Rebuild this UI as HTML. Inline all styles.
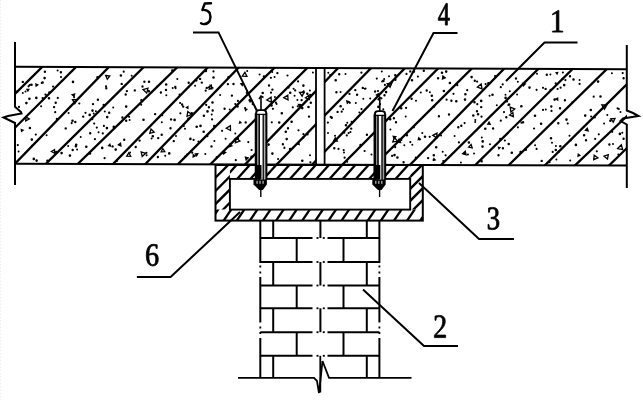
<!DOCTYPE html>
<html><head><meta charset="utf-8"><style>
html,body{margin:0;padding:0;background:#fff;width:643px;height:400px;overflow:hidden}
svg{display:block}
text{font-family:"Liberation Serif",serif}
</style></head><body>
<svg width="643" height="400" viewBox="0 0 643 400" stroke-linecap="butt">
<rect width="643" height="400" fill="#fff"/>
<line x1="0.5" y1="0" x2="0.5" y2="400" stroke="#eeeeee" stroke-width="1" stroke-dasharray="1.5 1.8"/>
<defs><clipPath id="slab"><polygon points="15.0,66.8 627.0,69.3 627.0,165.5 15.0,163.7"/></clipPath>
<clipPath id="chan"><path d="M215.5,164.5 H422.5 V221 H215.5 Z M229.8,179.3 V209.3 H410.3 V179.3 Z" clip-rule="evenodd"/></clipPath></defs>
<g clip-path="url(#slab)" stroke="#000">
<line x1="90.9" y1="18.6" x2="-103.7" y2="211.8" stroke-width="2.3" />
<line x1="124.4" y1="18.8" x2="-69.5" y2="211.9" stroke-width="2.3" />
<line x1="155.6" y1="18.9" x2="-31.9" y2="212.0" stroke-width="2.3" />
<line x1="192.2" y1="19.1" x2="-2.8" y2="212.0" stroke-width="2.3" />
<line x1="226.6" y1="19.3" x2="28.2" y2="212.1" stroke-width="2.3" />
<line x1="254.8" y1="19.4" x2="65.8" y2="212.2" stroke-width="2.3" />
<line x1="285.1" y1="19.5" x2="98.7" y2="212.3" stroke-width="2.3" />
<line x1="322.5" y1="19.7" x2="129.8" y2="212.3" stroke-width="2.3" />
<line x1="355.6" y1="19.9" x2="162.0" y2="212.4" stroke-width="2.3" />
<line x1="384.4" y1="20.0" x2="198.8" y2="212.5" stroke-width="2.3" />
<line x1="418.1" y1="20.1" x2="229.5" y2="212.6" stroke-width="2.3" />
<line x1="450.8" y1="20.3" x2="266.0" y2="212.7" stroke-width="2.3" />
<line x1="485.8" y1="20.5" x2="294.6" y2="212.7" stroke-width="2.3" />
<line x1="520.0" y1="20.6" x2="326.6" y2="212.8" stroke-width="2.3" />
<line x1="551.0" y1="20.8" x2="363.0" y2="212.9" stroke-width="2.3" />
<line x1="586.9" y1="20.9" x2="392.5" y2="213.0" stroke-width="2.3" />
<line x1="621.1" y1="21.1" x2="426.7" y2="213.0" stroke-width="2.3" />
<line x1="655.7" y1="21.2" x2="459.7" y2="213.1" stroke-width="2.3" />
<line x1="690.5" y1="21.4" x2="496.5" y2="213.2" stroke-width="2.3" />
<line x1="726.5" y1="21.6" x2="524.5" y2="213.3" stroke-width="2.3" />
<line x1="756.8" y1="21.7" x2="559.8" y2="213.4" stroke-width="2.3" />
</g>
<path fill="#000" d="M290.3,121.8a1.3,1.3 0 1,0 2.6,0a1.3,1.3 0 1,0 -2.6,0M290.2,149.1a1.1,1.1 0 1,0 2.2,0a1.1,1.1 0 1,0 -2.2,0M128.0,116.8a1.1,1.1 0 1,0 2.2,0a1.1,1.1 0 1,0 -2.2,0M73.1,97.2a1.0,1.0 0 1,0 2.0,0a1.0,1.0 0 1,0 -2.0,0M343.0,152.5a1.0,1.0 0 1,0 2.0,0a1.0,1.0 0 1,0 -2.0,0M377.1,106.9a1.3,1.3 0 1,0 2.6,0a1.3,1.3 0 1,0 -2.6,0M412.8,127.3a1.1,1.1 0 1,0 2.2,0a1.1,1.1 0 1,0 -2.2,0M394.2,147.3a1.0,1.0 0 1,0 2.0,0a1.0,1.0 0 1,0 -2.0,0M52.0,86.6a1.1,1.1 0 1,0 2.2,0a1.1,1.1 0 1,0 -2.2,0M379.8,142.3a1.2,1.2 0 1,0 2.4,0a1.2,1.2 0 1,0 -2.4,0M283.3,147.9a1.1,1.1 0 1,0 2.2,0a1.1,1.1 0 1,0 -2.2,0M404.7,116.6a1.0,1.0 0 1,0 2.0,0a1.0,1.0 0 1,0 -2.0,0M293.6,95.7a1.0,1.0 0 1,0 2.0,0a1.0,1.0 0 1,0 -2.0,0M445.5,99.7a1.1,1.1 0 1,0 2.2,0a1.1,1.1 0 1,0 -2.2,0M327.3,72.8a1.0,1.0 0 1,0 2.0,0a1.0,1.0 0 1,0 -2.0,0M258.7,148.2a1.3,1.3 0 1,0 2.6,0a1.3,1.3 0 1,0 -2.6,0M56.6,70.5a1.0,1.0 0 1,0 2.0,0a1.0,1.0 0 1,0 -2.0,0M145.6,155.3a1.0,1.0 0 1,0 2.0,0a1.0,1.0 0 1,0 -2.0,0M301.0,160.7a1.3,1.3 0 1,0 2.6,0a1.3,1.3 0 1,0 -2.6,0M270.7,122.3a1.1,1.1 0 1,0 2.2,0a1.1,1.1 0 1,0 -2.2,0M488.6,95.7a1.0,1.0 0 1,0 2.0,0a1.0,1.0 0 1,0 -2.0,0M204.6,71.0a1.3,1.3 0 1,0 2.6,0a1.3,1.3 0 1,0 -2.6,0M476.0,81.6a1.1,1.1 0 1,0 2.2,0a1.1,1.1 0 1,0 -2.2,0M444.9,71.6a1.3,1.3 0 1,0 2.6,0a1.3,1.3 0 1,0 -2.6,0M499.7,87.2a1.1,1.1 0 1,0 2.2,0a1.1,1.1 0 1,0 -2.2,0M287.5,87.6a1.1,1.1 0 1,0 2.2,0a1.1,1.1 0 1,0 -2.2,0M270.2,105.4a1.3,1.3 0 1,0 2.6,0a1.3,1.3 0 1,0 -2.6,0M271.2,89.6a1.2,1.2 0 1,0 2.4,0a1.2,1.2 0 1,0 -2.4,0M540.5,160.9a1.2,1.2 0 1,0 2.4,0a1.2,1.2 0 1,0 -2.4,0M621.6,73.1a1.1,1.1 0 1,0 2.2,0a1.1,1.1 0 1,0 -2.2,0M255.3,148.9a1.0,1.0 0 1,0 2.0,0a1.0,1.0 0 1,0 -2.0,0M41.3,82.5a1.3,1.3 0 1,0 2.6,0a1.3,1.3 0 1,0 -2.6,0M172.6,141.1a1.2,1.2 0 1,0 2.4,0a1.2,1.2 0 1,0 -2.4,0M520.0,106.5a1.0,1.0 0 1,0 2.0,0a1.0,1.0 0 1,0 -2.0,0M70.6,123.1a1.1,1.1 0 1,0 2.2,0a1.1,1.1 0 1,0 -2.2,0M25.1,103.1a1.3,1.3 0 1,0 2.6,0a1.3,1.3 0 1,0 -2.6,0M93.1,123.6a1.1,1.1 0 1,0 2.2,0a1.1,1.1 0 1,0 -2.2,0M541.9,87.8a1.1,1.1 0 1,0 2.2,0a1.1,1.1 0 1,0 -2.2,0M204.6,90.7a1.1,1.1 0 1,0 2.2,0a1.1,1.1 0 1,0 -2.2,0M456.2,85.2a1.1,1.1 0 1,0 2.2,0a1.1,1.1 0 1,0 -2.2,0M432.7,106.4a1.3,1.3 0 1,0 2.6,0a1.3,1.3 0 1,0 -2.6,0M382.3,109.3a1.0,1.0 0 1,0 2.0,0a1.0,1.0 0 1,0 -2.0,0M82.0,116.6a1.2,1.2 0 1,0 2.4,0a1.2,1.2 0 1,0 -2.4,0M160.5,134.7a1.2,1.2 0 1,0 2.4,0a1.2,1.2 0 1,0 -2.4,0M271.1,153.6a1.3,1.3 0 1,0 2.6,0a1.3,1.3 0 1,0 -2.6,0M194.1,85.8a1.0,1.0 0 1,0 2.0,0a1.0,1.0 0 1,0 -2.0,0M92.7,113.6a1.0,1.0 0 1,0 2.0,0a1.0,1.0 0 1,0 -2.0,0M186.0,154.5a1.1,1.1 0 1,0 2.2,0a1.1,1.1 0 1,0 -2.2,0M470.3,77.1a1.3,1.3 0 1,0 2.6,0a1.3,1.3 0 1,0 -2.6,0M286.4,75.5a1.1,1.1 0 1,0 2.2,0a1.1,1.1 0 1,0 -2.2,0M187.1,118.7a1.1,1.1 0 1,0 2.2,0a1.1,1.1 0 1,0 -2.2,0M71.7,81.9a1.3,1.3 0 1,0 2.6,0a1.3,1.3 0 1,0 -2.6,0M611.1,131.8a1.1,1.1 0 1,0 2.2,0a1.1,1.1 0 1,0 -2.2,0M373.8,155.7a1.3,1.3 0 1,0 2.6,0a1.3,1.3 0 1,0 -2.6,0M568.5,135.7a1.0,1.0 0 1,0 2.0,0a1.0,1.0 0 1,0 -2.0,0M28.6,128.0a1.3,1.3 0 1,0 2.6,0a1.3,1.3 0 1,0 -2.6,0M56.7,97.9a1.1,1.1 0 1,0 2.2,0a1.1,1.1 0 1,0 -2.2,0M622.4,78.2a1.2,1.2 0 1,0 2.4,0a1.2,1.2 0 1,0 -2.4,0M463.3,153.8a1.1,1.1 0 1,0 2.2,0a1.1,1.1 0 1,0 -2.2,0M497.3,155.3a1.2,1.2 0 1,0 2.4,0a1.2,1.2 0 1,0 -2.4,0M67.6,113.0a1.0,1.0 0 1,0 2.0,0a1.0,1.0 0 1,0 -2.0,0M544.8,109.5a1.0,1.0 0 1,0 2.0,0a1.0,1.0 0 1,0 -2.0,0M539.8,123.8a1.3,1.3 0 1,0 2.6,0a1.3,1.3 0 1,0 -2.6,0M246.2,70.9a1.0,1.0 0 1,0 2.0,0a1.0,1.0 0 1,0 -2.0,0M64.5,128.4a1.2,1.2 0 1,0 2.4,0a1.2,1.2 0 1,0 -2.4,0M549.7,138.2a1.3,1.3 0 1,0 2.6,0a1.3,1.3 0 1,0 -2.6,0M582.8,135.2a1.3,1.3 0 1,0 2.6,0a1.3,1.3 0 1,0 -2.6,0M283.4,147.5a1.0,1.0 0 1,0 2.0,0a1.0,1.0 0 1,0 -2.0,0M330.6,117.7a1.2,1.2 0 1,0 2.4,0a1.2,1.2 0 1,0 -2.4,0M380.9,114.8a1.1,1.1 0 1,0 2.2,0a1.1,1.1 0 1,0 -2.2,0M596.8,81.6a1.3,1.3 0 1,0 2.6,0a1.3,1.3 0 1,0 -2.6,0M171.1,70.5a1.2,1.2 0 1,0 2.4,0a1.2,1.2 0 1,0 -2.4,0M102.8,125.9a1.1,1.1 0 1,0 2.2,0a1.1,1.1 0 1,0 -2.2,0M473.2,102.3a1.3,1.3 0 1,0 2.6,0a1.3,1.3 0 1,0 -2.6,0M261.4,93.0a1.3,1.3 0 1,0 2.6,0a1.3,1.3 0 1,0 -2.6,0M503.8,140.5a1.1,1.1 0 1,0 2.2,0a1.1,1.1 0 1,0 -2.2,0M550.1,106.5a1.2,1.2 0 1,0 2.4,0a1.2,1.2 0 1,0 -2.4,0M143.2,81.8a1.2,1.2 0 1,0 2.4,0a1.2,1.2 0 1,0 -2.4,0M524.1,149.2a1.0,1.0 0 1,0 2.0,0a1.0,1.0 0 1,0 -2.0,0M592.6,96.7a1.1,1.1 0 1,0 2.2,0a1.1,1.1 0 1,0 -2.2,0M84.4,112.8a1.1,1.1 0 1,0 2.2,0a1.1,1.1 0 1,0 -2.2,0M520.1,106.2a1.3,1.3 0 1,0 2.6,0a1.3,1.3 0 1,0 -2.6,0M423.7,136.7a1.3,1.3 0 1,0 2.6,0a1.3,1.3 0 1,0 -2.6,0M210.3,146.4a1.2,1.2 0 1,0 2.4,0a1.2,1.2 0 1,0 -2.4,0M545.6,74.8a1.2,1.2 0 1,0 2.4,0a1.2,1.2 0 1,0 -2.4,0M362.3,98.8a1.0,1.0 0 1,0 2.0,0a1.0,1.0 0 1,0 -2.0,0M405.0,107.9a1.1,1.1 0 1,0 2.2,0a1.1,1.1 0 1,0 -2.2,0M30.9,145.9a1.1,1.1 0 1,0 2.2,0a1.1,1.1 0 1,0 -2.2,0M489.0,144.3a1.0,1.0 0 1,0 2.0,0a1.0,1.0 0 1,0 -2.0,0M286.8,128.2a1.2,1.2 0 1,0 2.4,0a1.2,1.2 0 1,0 -2.4,0M597.7,134.3a1.1,1.1 0 1,0 2.2,0a1.1,1.1 0 1,0 -2.2,0M516.1,94.5a1.0,1.0 0 1,0 2.0,0a1.0,1.0 0 1,0 -2.0,0M474.3,120.1a1.0,1.0 0 1,0 2.0,0a1.0,1.0 0 1,0 -2.0,0M124.5,94.5a1.2,1.2 0 1,0 2.4,0a1.2,1.2 0 1,0 -2.4,0M343.5,157.7a1.1,1.1 0 1,0 2.2,0a1.1,1.1 0 1,0 -2.2,0M254.8,143.1a1.1,1.1 0 1,0 2.2,0a1.1,1.1 0 1,0 -2.2,0M68.6,155.6a1.3,1.3 0 1,0 2.6,0a1.3,1.3 0 1,0 -2.6,0M94.9,111.2a1.0,1.0 0 1,0 2.0,0a1.0,1.0 0 1,0 -2.0,0M244.5,122.4a1.2,1.2 0 1,0 2.4,0a1.2,1.2 0 1,0 -2.4,0M297.4,130.3a1.1,1.1 0 1,0 2.2,0a1.1,1.1 0 1,0 -2.2,0M76.1,149.5a1.0,1.0 0 1,0 2.0,0a1.0,1.0 0 1,0 -2.0,0M145.5,152.8a1.0,1.0 0 1,0 2.0,0a1.0,1.0 0 1,0 -2.0,0M609.1,120.7a1.2,1.2 0 1,0 2.4,0a1.2,1.2 0 1,0 -2.4,0M175.0,136.1a1.0,1.0 0 1,0 2.0,0a1.0,1.0 0 1,0 -2.0,0M227.2,77.3a1.3,1.3 0 1,0 2.6,0a1.3,1.3 0 1,0 -2.6,0M223.4,108.7a1.2,1.2 0 1,0 2.4,0a1.2,1.2 0 1,0 -2.4,0M311.9,72.6a1.0,1.0 0 1,0 2.0,0a1.0,1.0 0 1,0 -2.0,0M276.2,73.1a1.2,1.2 0 1,0 2.4,0a1.2,1.2 0 1,0 -2.4,0M432.5,155.2a1.3,1.3 0 1,0 2.6,0a1.3,1.3 0 1,0 -2.6,0M105.9,117.1a1.3,1.3 0 1,0 2.6,0a1.3,1.3 0 1,0 -2.6,0M590.1,116.6a1.0,1.0 0 1,0 2.0,0a1.0,1.0 0 1,0 -2.0,0M475.8,111.3a1.2,1.2 0 1,0 2.4,0a1.2,1.2 0 1,0 -2.4,0M520.4,122.7a1.1,1.1 0 1,0 2.2,0a1.1,1.1 0 1,0 -2.2,0M333.1,148.2a1.2,1.2 0 1,0 2.4,0a1.2,1.2 0 1,0 -2.4,0M205.1,104.9a1.1,1.1 0 1,0 2.2,0a1.1,1.1 0 1,0 -2.2,0M200.6,82.6a1.2,1.2 0 1,0 2.4,0a1.2,1.2 0 1,0 -2.4,0M363.8,88.8a1.0,1.0 0 1,0 2.0,0a1.0,1.0 0 1,0 -2.0,0M32.5,158.9a1.3,1.3 0 1,0 2.6,0a1.3,1.3 0 1,0 -2.6,0M346.2,161.7a1.0,1.0 0 1,0 2.0,0a1.0,1.0 0 1,0 -2.0,0M55.7,119.0a1.3,1.3 0 1,0 2.6,0a1.3,1.3 0 1,0 -2.6,0M574.6,144.9a1.3,1.3 0 1,0 2.6,0a1.3,1.3 0 1,0 -2.6,0M179.3,113.3a1.1,1.1 0 1,0 2.2,0a1.1,1.1 0 1,0 -2.2,0M221.9,153.1a1.3,1.3 0 1,0 2.6,0a1.3,1.3 0 1,0 -2.6,0M334.4,80.2a1.3,1.3 0 1,0 2.6,0a1.3,1.3 0 1,0 -2.6,0M391.0,155.9a1.1,1.1 0 1,0 2.2,0a1.1,1.1 0 1,0 -2.2,0M442.2,160.9a1.0,1.0 0 1,0 2.0,0a1.0,1.0 0 1,0 -2.0,0M133.6,90.4a1.2,1.2 0 1,0 2.4,0a1.2,1.2 0 1,0 -2.4,0M211.2,102.5a1.3,1.3 0 1,0 2.6,0a1.3,1.3 0 1,0 -2.6,0M79.7,136.9a1.0,1.0 0 1,0 2.0,0a1.0,1.0 0 1,0 -2.0,0M533.0,128.5a1.1,1.1 0 1,0 2.2,0a1.1,1.1 0 1,0 -2.2,0M441.7,151.8a1.0,1.0 0 1,0 2.0,0a1.0,1.0 0 1,0 -2.0,0M244.0,108.0a1.1,1.1 0 1,0 2.2,0a1.1,1.1 0 1,0 -2.2,0M342.6,150.1a1.1,1.1 0 1,0 2.2,0a1.1,1.1 0 1,0 -2.2,0M337.4,148.9a1.1,1.1 0 1,0 2.2,0a1.1,1.1 0 1,0 -2.2,0M157.0,138.1a1.2,1.2 0 1,0 2.4,0a1.2,1.2 0 1,0 -2.4,0M563.7,100.2a1.2,1.2 0 1,0 2.4,0a1.2,1.2 0 1,0 -2.4,0M556.5,89.0a1.1,1.1 0 1,0 2.2,0a1.1,1.1 0 1,0 -2.2,0M554.6,83.4a1.1,1.1 0 1,0 2.2,0a1.1,1.1 0 1,0 -2.2,0M96.2,77.3a1.3,1.3 0 1,0 2.6,0a1.3,1.3 0 1,0 -2.6,0M74.6,146.3a1.3,1.3 0 1,0 2.6,0a1.3,1.3 0 1,0 -2.6,0M345.7,135.4a1.1,1.1 0 1,0 2.2,0a1.1,1.1 0 1,0 -2.2,0M260.5,133.3a1.0,1.0 0 1,0 2.0,0a1.0,1.0 0 1,0 -2.0,0M74.1,122.0a1.2,1.2 0 1,0 2.4,0a1.2,1.2 0 1,0 -2.4,0M569.2,160.4a1.0,1.0 0 1,0 2.0,0a1.0,1.0 0 1,0 -2.0,0M443.6,129.2a1.2,1.2 0 1,0 2.4,0a1.2,1.2 0 1,0 -2.4,0M130.7,75.8a1.0,1.0 0 1,0 2.0,0a1.0,1.0 0 1,0 -2.0,0M30.5,139.6a1.3,1.3 0 1,0 2.6,0a1.3,1.3 0 1,0 -2.6,0M104.9,86.3a1.1,1.1 0 1,0 2.2,0a1.1,1.1 0 1,0 -2.2,0M120.5,83.9a1.2,1.2 0 1,0 2.4,0a1.2,1.2 0 1,0 -2.4,0M578.6,79.9a1.0,1.0 0 1,0 2.0,0a1.0,1.0 0 1,0 -2.0,0M97.6,132.3a1.0,1.0 0 1,0 2.0,0a1.0,1.0 0 1,0 -2.0,0M479.9,100.9a1.3,1.3 0 1,0 2.6,0a1.3,1.3 0 1,0 -2.6,0M274.8,102.7a1.1,1.1 0 1,0 2.2,0a1.1,1.1 0 1,0 -2.2,0M380.8,71.5a1.0,1.0 0 1,0 2.0,0a1.0,1.0 0 1,0 -2.0,0M528.2,87.6a1.3,1.3 0 1,0 2.6,0a1.3,1.3 0 1,0 -2.6,0M234.2,104.0a1.1,1.1 0 1,0 2.2,0a1.1,1.1 0 1,0 -2.2,0M383.2,79.1a1.0,1.0 0 1,0 2.0,0a1.0,1.0 0 1,0 -2.0,0M212.2,77.5a1.3,1.3 0 1,0 2.6,0a1.3,1.3 0 1,0 -2.6,0M361.6,87.9a1.2,1.2 0 1,0 2.4,0a1.2,1.2 0 1,0 -2.4,0M504.5,94.7a1.0,1.0 0 1,0 2.0,0a1.0,1.0 0 1,0 -2.0,0M467.6,142.5a1.3,1.3 0 1,0 2.6,0a1.3,1.3 0 1,0 -2.6,0M96.7,99.8a1.2,1.2 0 1,0 2.4,0a1.2,1.2 0 1,0 -2.4,0M481.4,141.4a1.3,1.3 0 1,0 2.6,0a1.3,1.3 0 1,0 -2.6,0M141.3,86.5a1.2,1.2 0 1,0 2.4,0a1.2,1.2 0 1,0 -2.4,0M198.9,78.9a1.2,1.2 0 1,0 2.4,0a1.2,1.2 0 1,0 -2.4,0M617.3,154.5a1.0,1.0 0 1,0 2.0,0a1.0,1.0 0 1,0 -2.0,0M156.7,157.0a1.2,1.2 0 1,0 2.4,0a1.2,1.2 0 1,0 -2.4,0M221.0,130.8a1.1,1.1 0 1,0 2.2,0a1.1,1.1 0 1,0 -2.2,0M339.3,106.2a1.3,1.3 0 1,0 2.6,0a1.3,1.3 0 1,0 -2.6,0M405.6,135.2a1.3,1.3 0 1,0 2.6,0a1.3,1.3 0 1,0 -2.6,0M610.9,73.3a1.0,1.0 0 1,0 2.0,0a1.0,1.0 0 1,0 -2.0,0M464.1,94.3a1.3,1.3 0 1,0 2.6,0a1.3,1.3 0 1,0 -2.6,0M409.1,71.4a1.2,1.2 0 1,0 2.4,0a1.2,1.2 0 1,0 -2.4,0M168.0,153.4a1.3,1.3 0 1,0 2.6,0a1.3,1.3 0 1,0 -2.6,0M603.1,123.6a1.0,1.0 0 1,0 2.0,0a1.0,1.0 0 1,0 -2.0,0M403.3,145.2a1.0,1.0 0 1,0 2.0,0a1.0,1.0 0 1,0 -2.0,0M349.5,132.0a1.0,1.0 0 1,0 2.0,0a1.0,1.0 0 1,0 -2.0,0M250.3,156.7a1.3,1.3 0 1,0 2.6,0a1.3,1.3 0 1,0 -2.6,0M302.1,85.6a1.3,1.3 0 1,0 2.6,0a1.3,1.3 0 1,0 -2.6,0M344.7,125.3a1.3,1.3 0 1,0 2.6,0a1.3,1.3 0 1,0 -2.6,0M589.5,110.0a1.3,1.3 0 1,0 2.6,0a1.3,1.3 0 1,0 -2.6,0M378.7,104.1a1.2,1.2 0 1,0 2.4,0a1.2,1.2 0 1,0 -2.4,0M309.1,95.0a1.2,1.2 0 1,0 2.4,0a1.2,1.2 0 1,0 -2.4,0M418.8,139.6a1.0,1.0 0 1,0 2.0,0a1.0,1.0 0 1,0 -2.0,0M24.5,91.6a1.0,1.0 0 1,0 2.0,0a1.0,1.0 0 1,0 -2.0,0M399.9,108.2a1.3,1.3 0 1,0 2.6,0a1.3,1.3 0 1,0 -2.6,0M47.7,98.2a1.3,1.3 0 1,0 2.6,0a1.3,1.3 0 1,0 -2.6,0M46.2,160.8a1.2,1.2 0 1,0 2.4,0a1.2,1.2 0 1,0 -2.4,0M60.3,153.1a1.3,1.3 0 1,0 2.6,0a1.3,1.3 0 1,0 -2.6,0M452.4,93.8a1.1,1.1 0 1,0 2.2,0a1.1,1.1 0 1,0 -2.2,0M43.3,78.1a1.3,1.3 0 1,0 2.6,0a1.3,1.3 0 1,0 -2.6,0M103.5,158.2a1.1,1.1 0 1,0 2.2,0a1.1,1.1 0 1,0 -2.2,0M382.1,80.9a1.3,1.3 0 1,0 2.6,0a1.3,1.3 0 1,0 -2.6,0M292.6,88.8a1.0,1.0 0 1,0 2.0,0a1.0,1.0 0 1,0 -2.0,0M232.3,84.0a1.2,1.2 0 1,0 2.4,0a1.2,1.2 0 1,0 -2.4,0M284.5,131.7a1.3,1.3 0 1,0 2.6,0a1.3,1.3 0 1,0 -2.6,0M380.5,129.4a1.3,1.3 0 1,0 2.6,0a1.3,1.3 0 1,0 -2.6,0M236.9,138.6a1.1,1.1 0 1,0 2.2,0a1.1,1.1 0 1,0 -2.2,0M594.1,138.9a1.1,1.1 0 1,0 2.2,0a1.1,1.1 0 1,0 -2.2,0M307.8,116.6a1.2,1.2 0 1,0 2.4,0a1.2,1.2 0 1,0 -2.4,0M491.9,128.5a1.2,1.2 0 1,0 2.4,0a1.2,1.2 0 1,0 -2.4,0M182.7,126.0a1.1,1.1 0 1,0 2.2,0a1.1,1.1 0 1,0 -2.2,0M400.2,140.0a1.1,1.1 0 1,0 2.2,0a1.1,1.1 0 1,0 -2.2,0M593.7,117.5a1.1,1.1 0 1,0 2.2,0a1.1,1.1 0 1,0 -2.2,0M549.4,74.6a1.0,1.0 0 1,0 2.0,0a1.0,1.0 0 1,0 -2.0,0M21.8,92.9a1.0,1.0 0 1,0 2.0,0a1.0,1.0 0 1,0 -2.0,0M394.2,79.8a1.2,1.2 0 1,0 2.4,0a1.2,1.2 0 1,0 -2.4,0M59.9,77.0a1.1,1.1 0 1,0 2.2,0a1.1,1.1 0 1,0 -2.2,0M350.0,128.6a1.2,1.2 0 1,0 2.4,0a1.2,1.2 0 1,0 -2.4,0M309.6,102.8a1.2,1.2 0 1,0 2.4,0a1.2,1.2 0 1,0 -2.4,0M224.6,138.7a1.0,1.0 0 1,0 2.0,0a1.0,1.0 0 1,0 -2.0,0M502.9,112.1a1.1,1.1 0 1,0 2.2,0a1.1,1.1 0 1,0 -2.2,0M285.4,139.1a1.3,1.3 0 1,0 2.6,0a1.3,1.3 0 1,0 -2.6,0M507.4,104.9a1.2,1.2 0 1,0 2.4,0a1.2,1.2 0 1,0 -2.4,0M192.5,139.9a1.1,1.1 0 1,0 2.2,0a1.1,1.1 0 1,0 -2.2,0M275.6,104.1a1.0,1.0 0 1,0 2.0,0a1.0,1.0 0 1,0 -2.0,0M296.4,100.0a1.0,1.0 0 1,0 2.0,0a1.0,1.0 0 1,0 -2.0,0M277.9,122.5a1.3,1.3 0 1,0 2.6,0a1.3,1.3 0 1,0 -2.6,0M197.4,141.4a1.0,1.0 0 1,0 2.0,0a1.0,1.0 0 1,0 -2.0,0M204.3,154.0a1.0,1.0 0 1,0 2.0,0a1.0,1.0 0 1,0 -2.0,0M437.7,116.3a1.2,1.2 0 1,0 2.4,0a1.2,1.2 0 1,0 -2.4,0M187.5,82.8a1.2,1.2 0 1,0 2.4,0a1.2,1.2 0 1,0 -2.4,0M415.0,100.7a1.0,1.0 0 1,0 2.0,0a1.0,1.0 0 1,0 -2.0,0M211.5,110.5a1.2,1.2 0 1,0 2.4,0a1.2,1.2 0 1,0 -2.4,0M281.7,144.3a1.2,1.2 0 1,0 2.4,0a1.2,1.2 0 1,0 -2.4,0M294.1,90.4a1.1,1.1 0 1,0 2.2,0a1.1,1.1 0 1,0 -2.2,0M67.2,145.9a1.0,1.0 0 1,0 2.0,0a1.0,1.0 0 1,0 -2.0,0M236.2,106.4a1.3,1.3 0 1,0 2.6,0a1.3,1.3 0 1,0 -2.6,0M499.1,139.0a1.2,1.2 0 1,0 2.4,0a1.2,1.2 0 1,0 -2.4,0M499.7,120.7a1.1,1.1 0 1,0 2.2,0a1.1,1.1 0 1,0 -2.2,0M123.0,139.7a1.2,1.2 0 1,0 2.4,0a1.2,1.2 0 1,0 -2.4,0M508.8,91.2a1.0,1.0 0 1,0 2.0,0a1.0,1.0 0 1,0 -2.0,0M346.3,122.7a1.0,1.0 0 1,0 2.0,0a1.0,1.0 0 1,0 -2.0,0M411.3,144.8a1.0,1.0 0 1,0 2.0,0a1.0,1.0 0 1,0 -2.0,0M369.2,98.5a1.0,1.0 0 1,0 2.0,0a1.0,1.0 0 1,0 -2.0,0M219.1,95.0a1.0,1.0 0 1,0 2.0,0a1.0,1.0 0 1,0 -2.0,0M561.6,78.9a1.1,1.1 0 1,0 2.2,0a1.1,1.1 0 1,0 -2.2,0M74.9,144.8a1.3,1.3 0 1,0 2.6,0a1.3,1.3 0 1,0 -2.6,0M164.8,89.9a1.2,1.2 0 1,0 2.4,0a1.2,1.2 0 1,0 -2.4,0M480.0,107.1a1.2,1.2 0 1,0 2.4,0a1.2,1.2 0 1,0 -2.4,0M505.9,101.6a1.1,1.1 0 1,0 2.2,0a1.1,1.1 0 1,0 -2.2,0M453.6,136.0a1.0,1.0 0 1,0 2.0,0a1.0,1.0 0 1,0 -2.0,0M265.0,146.3a1.2,1.2 0 1,0 2.4,0a1.2,1.2 0 1,0 -2.4,0M534.1,145.3a1.0,1.0 0 1,0 2.0,0a1.0,1.0 0 1,0 -2.0,0M555.4,159.4a1.0,1.0 0 1,0 2.0,0a1.0,1.0 0 1,0 -2.0,0M334.0,135.8a1.0,1.0 0 1,0 2.0,0a1.0,1.0 0 1,0 -2.0,0M271.8,108.8a1.1,1.1 0 1,0 2.2,0a1.1,1.1 0 1,0 -2.2,0M164.9,84.5a1.3,1.3 0 1,0 2.6,0a1.3,1.3 0 1,0 -2.6,0M430.9,100.2a1.3,1.3 0 1,0 2.6,0a1.3,1.3 0 1,0 -2.6,0M273.9,96.9a1.0,1.0 0 1,0 2.0,0a1.0,1.0 0 1,0 -2.0,0M302.0,137.6a1.2,1.2 0 1,0 2.4,0a1.2,1.2 0 1,0 -2.4,0M409.2,142.1a1.1,1.1 0 1,0 2.2,0a1.1,1.1 0 1,0 -2.2,0M569.7,140.6a1.0,1.0 0 1,0 2.0,0a1.0,1.0 0 1,0 -2.0,0M370.5,154.4a1.0,1.0 0 1,0 2.0,0a1.0,1.0 0 1,0 -2.0,0M205.5,87.9a1.2,1.2 0 1,0 2.4,0a1.2,1.2 0 1,0 -2.4,0M147.6,91.2a1.3,1.3 0 1,0 2.6,0a1.3,1.3 0 1,0 -2.6,0M376.9,91.0a1.1,1.1 0 1,0 2.2,0a1.1,1.1 0 1,0 -2.2,0M558.8,108.2a1.2,1.2 0 1,0 2.4,0a1.2,1.2 0 1,0 -2.4,0M396.1,157.5a1.3,1.3 0 1,0 2.6,0a1.3,1.3 0 1,0 -2.6,0M533.7,115.7a1.3,1.3 0 1,0 2.6,0a1.3,1.3 0 1,0 -2.6,0M571.0,102.6a1.0,1.0 0 1,0 2.0,0a1.0,1.0 0 1,0 -2.0,0M308.9,90.5a1.0,1.0 0 1,0 2.0,0a1.0,1.0 0 1,0 -2.0,0M147.7,81.8a1.3,1.3 0 1,0 2.6,0a1.3,1.3 0 1,0 -2.6,0M608.2,144.5a1.2,1.2 0 1,0 2.4,0a1.2,1.2 0 1,0 -2.4,0M494.0,76.1a1.1,1.1 0 1,0 2.2,0a1.1,1.1 0 1,0 -2.2,0M557.4,151.7a1.2,1.2 0 1,0 2.4,0a1.2,1.2 0 1,0 -2.4,0M288.9,92.8a1.3,1.3 0 1,0 2.6,0a1.3,1.3 0 1,0 -2.6,0M383.8,84.9a1.1,1.1 0 1,0 2.2,0a1.1,1.1 0 1,0 -2.2,0M484.5,84.1a1.1,1.1 0 1,0 2.2,0a1.1,1.1 0 1,0 -2.2,0M402.4,162.2a1.2,1.2 0 1,0 2.4,0a1.2,1.2 0 1,0 -2.4,0M329.1,75.0a1.1,1.1 0 1,0 2.2,0a1.1,1.1 0 1,0 -2.2,0M16.7,145.1a1.1,1.1 0 1,0 2.2,0a1.1,1.1 0 1,0 -2.2,0M514.8,78.5a1.2,1.2 0 1,0 2.4,0a1.2,1.2 0 1,0 -2.4,0M388.9,119.2a1.3,1.3 0 1,0 2.6,0a1.3,1.3 0 1,0 -2.6,0M436.9,78.2a1.2,1.2 0 1,0 2.4,0a1.2,1.2 0 1,0 -2.4,0M27.5,86.3a1.1,1.1 0 1,0 2.2,0a1.1,1.1 0 1,0 -2.2,0M572.2,79.5a1.3,1.3 0 1,0 2.6,0a1.3,1.3 0 1,0 -2.6,0M142.2,119.7a1.3,1.3 0 1,0 2.6,0a1.3,1.3 0 1,0 -2.6,0M111.4,146.4a1.2,1.2 0 1,0 2.4,0a1.2,1.2 0 1,0 -2.4,0M207.7,107.2a1.2,1.2 0 1,0 2.4,0a1.2,1.2 0 1,0 -2.4,0M621.3,132.8a1.0,1.0 0 1,0 2.0,0a1.0,1.0 0 1,0 -2.0,0M234.3,133.4a1.0,1.0 0 1,0 2.0,0a1.0,1.0 0 1,0 -2.0,0M421.3,132.9a1.0,1.0 0 1,0 2.0,0a1.0,1.0 0 1,0 -2.0,0M412.6,71.6a1.3,1.3 0 1,0 2.6,0a1.3,1.3 0 1,0 -2.6,0M447.8,114.5a1.2,1.2 0 1,0 2.4,0a1.2,1.2 0 1,0 -2.4,0M358.4,112.6a1.0,1.0 0 1,0 2.0,0a1.0,1.0 0 1,0 -2.0,0M535.5,148.9a1.1,1.1 0 1,0 2.2,0a1.1,1.1 0 1,0 -2.2,0M562.9,85.1a1.3,1.3 0 1,0 2.6,0a1.3,1.3 0 1,0 -2.6,0M584.8,140.3a1.2,1.2 0 1,0 2.4,0a1.2,1.2 0 1,0 -2.4,0M474.2,122.0a1.0,1.0 0 1,0 2.0,0a1.0,1.0 0 1,0 -2.0,0M171.7,88.0a1.0,1.0 0 1,0 2.0,0a1.0,1.0 0 1,0 -2.0,0M215.6,157.2a1.3,1.3 0 1,0 2.6,0a1.3,1.3 0 1,0 -2.6,0M455.0,101.2a1.3,1.3 0 1,0 2.6,0a1.3,1.3 0 1,0 -2.6,0M72.0,82.1a1.0,1.0 0 1,0 2.0,0a1.0,1.0 0 1,0 -2.0,0M95.7,127.6a1.1,1.1 0 1,0 2.2,0a1.1,1.1 0 1,0 -2.2,0M124.9,106.6a1.3,1.3 0 1,0 2.6,0a1.3,1.3 0 1,0 -2.6,0M375.7,78.6a1.1,1.1 0 1,0 2.2,0a1.1,1.1 0 1,0 -2.2,0M35.3,160.6a1.3,1.3 0 1,0 2.6,0a1.3,1.3 0 1,0 -2.6,0M262.7,76.5a1.3,1.3 0 1,0 2.6,0a1.3,1.3 0 1,0 -2.6,0M578.5,83.9a1.1,1.1 0 1,0 2.2,0a1.1,1.1 0 1,0 -2.2,0M481.2,146.6a1.3,1.3 0 1,0 2.6,0a1.3,1.3 0 1,0 -2.6,0M309.0,155.3a1.0,1.0 0 1,0 2.0,0a1.0,1.0 0 1,0 -2.0,0M457.1,127.3a1.2,1.2 0 1,0 2.4,0a1.2,1.2 0 1,0 -2.4,0M612.0,144.1a1.0,1.0 0 1,0 2.0,0a1.0,1.0 0 1,0 -2.0,0M174.1,87.0a1.2,1.2 0 1,0 2.4,0a1.2,1.2 0 1,0 -2.4,0M410.7,80.2a1.3,1.3 0 1,0 2.6,0a1.3,1.3 0 1,0 -2.6,0M140.2,100.2a1.2,1.2 0 1,0 2.4,0a1.2,1.2 0 1,0 -2.4,0M516.8,127.3a1.1,1.1 0 1,0 2.2,0a1.1,1.1 0 1,0 -2.2,0M169.9,119.4a1.2,1.2 0 1,0 2.4,0a1.2,1.2 0 1,0 -2.4,0M348.7,102.8a1.1,1.1 0 1,0 2.2,0a1.1,1.1 0 1,0 -2.2,0M364.4,88.6a1.1,1.1 0 1,0 2.2,0a1.1,1.1 0 1,0 -2.2,0M360.3,72.7a1.1,1.1 0 1,0 2.2,0a1.1,1.1 0 1,0 -2.2,0M487.1,83.3a1.3,1.3 0 1,0 2.6,0a1.3,1.3 0 1,0 -2.6,0M365.7,134.7a1.2,1.2 0 1,0 2.4,0a1.2,1.2 0 1,0 -2.4,0M71.5,150.0a1.2,1.2 0 1,0 2.4,0a1.2,1.2 0 1,0 -2.4,0M297.0,81.4a1.1,1.1 0 1,0 2.2,0a1.1,1.1 0 1,0 -2.2,0M160.8,122.2a1.0,1.0 0 1,0 2.0,0a1.0,1.0 0 1,0 -2.0,0M355.9,94.7a1.2,1.2 0 1,0 2.4,0a1.2,1.2 0 1,0 -2.4,0M381.1,81.6a1.0,1.0 0 1,0 2.0,0a1.0,1.0 0 1,0 -2.0,0M191.1,152.7a1.1,1.1 0 1,0 2.2,0a1.1,1.1 0 1,0 -2.2,0M476.2,104.2a1.1,1.1 0 1,0 2.2,0a1.1,1.1 0 1,0 -2.2,0M128.6,120.1a1.0,1.0 0 1,0 2.0,0a1.0,1.0 0 1,0 -2.0,0M291.7,107.3a1.1,1.1 0 1,0 2.2,0a1.1,1.1 0 1,0 -2.2,0M202.4,131.8a1.3,1.3 0 1,0 2.6,0a1.3,1.3 0 1,0 -2.6,0M389.4,129.5a1.0,1.0 0 1,0 2.0,0a1.0,1.0 0 1,0 -2.0,0M112.2,107.4a1.0,1.0 0 1,0 2.0,0a1.0,1.0 0 1,0 -2.0,0M102.5,105.0a1.3,1.3 0 1,0 2.6,0a1.3,1.3 0 1,0 -2.6,0M121.2,117.5a1.2,1.2 0 1,0 2.4,0a1.2,1.2 0 1,0 -2.4,0M164.2,155.8a1.0,1.0 0 1,0 2.0,0a1.0,1.0 0 1,0 -2.0,0M405.4,73.9a1.1,1.1 0 1,0 2.2,0a1.1,1.1 0 1,0 -2.2,0M260.7,115.9a1.0,1.0 0 1,0 2.0,0a1.0,1.0 0 1,0 -2.0,0M300.9,108.1a1.3,1.3 0 1,0 2.6,0a1.3,1.3 0 1,0 -2.6,0M472.0,115.5a1.3,1.3 0 1,0 2.6,0a1.3,1.3 0 1,0 -2.6,0M524.5,149.8a1.3,1.3 0 1,0 2.6,0a1.3,1.3 0 1,0 -2.6,0M516.8,81.7a1.0,1.0 0 1,0 2.0,0a1.0,1.0 0 1,0 -2.0,0M565.2,119.6a1.3,1.3 0 1,0 2.6,0a1.3,1.3 0 1,0 -2.6,0M271.2,72.1a1.0,1.0 0 1,0 2.0,0a1.0,1.0 0 1,0 -2.0,0M195.4,126.7a1.3,1.3 0 1,0 2.6,0a1.3,1.3 0 1,0 -2.6,0M460.1,125.8a1.2,1.2 0 1,0 2.4,0a1.2,1.2 0 1,0 -2.4,0M551.6,151.9a1.1,1.1 0 1,0 2.2,0a1.1,1.1 0 1,0 -2.2,0M91.2,110.6a1.3,1.3 0 1,0 2.6,0a1.3,1.3 0 1,0 -2.6,0M606.3,115.1a1.0,1.0 0 1,0 2.0,0a1.0,1.0 0 1,0 -2.0,0M335.2,92.2a1.2,1.2 0 1,0 2.4,0a1.2,1.2 0 1,0 -2.4,0M414.7,157.4a1.0,1.0 0 1,0 2.0,0a1.0,1.0 0 1,0 -2.0,0M622.4,138.7a1.2,1.2 0 1,0 2.4,0a1.2,1.2 0 1,0 -2.4,0M541.9,109.9a1.1,1.1 0 1,0 2.2,0a1.1,1.1 0 1,0 -2.2,0M150.6,138.6a1.0,1.0 0 1,0 2.0,0a1.0,1.0 0 1,0 -2.0,0M564.3,80.1a1.1,1.1 0 1,0 2.2,0a1.1,1.1 0 1,0 -2.2,0M90.8,119.0a1.3,1.3 0 1,0 2.6,0a1.3,1.3 0 1,0 -2.6,0M16.1,91.5a1.2,1.2 0 1,0 2.4,0a1.2,1.2 0 1,0 -2.4,0M30.2,84.8a1.3,1.3 0 1,0 2.6,0a1.3,1.3 0 1,0 -2.6,0M559.0,146.3a1.3,1.3 0 1,0 2.6,0a1.3,1.3 0 1,0 -2.6,0M101.7,133.4a1.1,1.1 0 1,0 2.2,0a1.1,1.1 0 1,0 -2.2,0M43.7,71.8a1.2,1.2 0 1,0 2.4,0a1.2,1.2 0 1,0 -2.4,0M202.6,115.8a1.3,1.3 0 1,0 2.6,0a1.3,1.3 0 1,0 -2.6,0M549.4,89.7a1.0,1.0 0 1,0 2.0,0a1.0,1.0 0 1,0 -2.0,0M134.5,147.0a1.2,1.2 0 1,0 2.4,0a1.2,1.2 0 1,0 -2.4,0M561.8,72.5a1.1,1.1 0 1,0 2.2,0a1.1,1.1 0 1,0 -2.2,0M339.6,92.0a1.0,1.0 0 1,0 2.0,0a1.0,1.0 0 1,0 -2.0,0M410.4,98.7a1.2,1.2 0 1,0 2.4,0a1.2,1.2 0 1,0 -2.4,0M599.2,96.5a1.3,1.3 0 1,0 2.6,0a1.3,1.3 0 1,0 -2.6,0M448.6,83.0a1.3,1.3 0 1,0 2.6,0a1.3,1.3 0 1,0 -2.6,0M267.8,85.5a1.2,1.2 0 1,0 2.4,0a1.2,1.2 0 1,0 -2.4,0M89.0,133.3a1.2,1.2 0 1,0 2.4,0a1.2,1.2 0 1,0 -2.4,0M125.7,91.1a1.2,1.2 0 1,0 2.4,0a1.2,1.2 0 1,0 -2.4,0M495.8,105.2a1.0,1.0 0 1,0 2.0,0a1.0,1.0 0 1,0 -2.0,0M373.9,91.5a1.2,1.2 0 1,0 2.4,0a1.2,1.2 0 1,0 -2.4,0M559.5,87.7a1.1,1.1 0 1,0 2.2,0a1.1,1.1 0 1,0 -2.2,0M184.0,128.8a1.0,1.0 0 1,0 2.0,0a1.0,1.0 0 1,0 -2.0,0M296.9,77.0a1.0,1.0 0 1,0 2.0,0a1.0,1.0 0 1,0 -2.0,0M338.0,74.3a1.2,1.2 0 1,0 2.4,0a1.2,1.2 0 1,0 -2.4,0M342.1,109.3a1.0,1.0 0 1,0 2.0,0a1.0,1.0 0 1,0 -2.0,0M115.8,160.9a1.1,1.1 0 1,0 2.2,0a1.1,1.1 0 1,0 -2.2,0M165.3,95.3a1.0,1.0 0 1,0 2.0,0a1.0,1.0 0 1,0 -2.0,0M129.1,152.5a1.0,1.0 0 1,0 2.0,0a1.0,1.0 0 1,0 -2.0,0M393.2,155.1a1.3,1.3 0 1,0 2.6,0a1.3,1.3 0 1,0 -2.6,0M17.6,151.6a1.0,1.0 0 1,0 2.0,0a1.0,1.0 0 1,0 -2.0,0M125.0,120.8a1.2,1.2 0 1,0 2.4,0a1.2,1.2 0 1,0 -2.4,0M210.7,114.4a1.0,1.0 0 1,0 2.0,0a1.0,1.0 0 1,0 -2.0,0M329.6,116.9a1.1,1.1 0 1,0 2.2,0a1.1,1.1 0 1,0 -2.2,0M376.5,141.6a1.0,1.0 0 1,0 2.0,0a1.0,1.0 0 1,0 -2.0,0M384.8,92.1a1.3,1.3 0 1,0 2.6,0a1.3,1.3 0 1,0 -2.6,0M348.4,93.9a1.1,1.1 0 1,0 2.2,0a1.1,1.1 0 1,0 -2.2,0M173.3,119.9a1.3,1.3 0 1,0 2.6,0a1.3,1.3 0 1,0 -2.6,0M174.6,88.2a1.0,1.0 0 1,0 2.0,0a1.0,1.0 0 1,0 -2.0,0M363.5,151.0a1.1,1.1 0 1,0 2.2,0a1.1,1.1 0 1,0 -2.2,0M213.0,126.0a1.3,1.3 0 1,0 2.6,0a1.3,1.3 0 1,0 -2.6,0M505.1,117.3a1.2,1.2 0 1,0 2.4,0a1.2,1.2 0 1,0 -2.4,0M536.0,73.8a1.0,1.0 0 1,0 2.0,0a1.0,1.0 0 1,0 -2.0,0M566.6,123.5a1.1,1.1 0 1,0 2.2,0a1.1,1.1 0 1,0 -2.2,0M394.0,75.3a1.3,1.3 0 1,0 2.6,0a1.3,1.3 0 1,0 -2.6,0M41.5,98.1a1.2,1.2 0 1,0 2.4,0a1.2,1.2 0 1,0 -2.4,0M480.4,116.7a1.1,1.1 0 1,0 2.2,0a1.1,1.1 0 1,0 -2.2,0M245.7,92.7a1.3,1.3 0 1,0 2.6,0a1.3,1.3 0 1,0 -2.6,0M434.9,147.3a1.3,1.3 0 1,0 2.6,0a1.3,1.3 0 1,0 -2.6,0M52.9,107.1a1.2,1.2 0 1,0 2.4,0a1.2,1.2 0 1,0 -2.4,0M440.1,135.6a1.0,1.0 0 1,0 2.0,0a1.0,1.0 0 1,0 -2.0,0M93.8,139.2a1.1,1.1 0 1,0 2.2,0a1.1,1.1 0 1,0 -2.2,0M103.8,111.4a1.0,1.0 0 1,0 2.0,0a1.0,1.0 0 1,0 -2.0,0M17.9,106.9a1.1,1.1 0 1,0 2.2,0a1.1,1.1 0 1,0 -2.2,0M71.2,120.7a1.3,1.3 0 1,0 2.6,0a1.3,1.3 0 1,0 -2.6,0M273.6,76.9a1.0,1.0 0 1,0 2.0,0a1.0,1.0 0 1,0 -2.0,0M428.6,136.8a1.1,1.1 0 1,0 2.2,0a1.1,1.1 0 1,0 -2.2,0M195.4,80.6a1.1,1.1 0 1,0 2.2,0a1.1,1.1 0 1,0 -2.2,0M269.8,77.8a1.1,1.1 0 1,0 2.2,0a1.1,1.1 0 1,0 -2.2,0M236.8,100.9a1.1,1.1 0 1,0 2.2,0a1.1,1.1 0 1,0 -2.2,0M40.1,106.3a1.0,1.0 0 1,0 2.0,0a1.0,1.0 0 1,0 -2.0,0M463.5,123.1a1.1,1.1 0 1,0 2.2,0a1.1,1.1 0 1,0 -2.2,0M296.7,106.3a1.1,1.1 0 1,0 2.2,0a1.1,1.1 0 1,0 -2.2,0M247.2,142.1a1.1,1.1 0 1,0 2.2,0a1.1,1.1 0 1,0 -2.2,0M269.9,92.7a1.1,1.1 0 1,0 2.2,0a1.1,1.1 0 1,0 -2.2,0M307.2,107.0a1.3,1.3 0 1,0 2.6,0a1.3,1.3 0 1,0 -2.6,0M476.8,114.3a1.3,1.3 0 1,0 2.6,0a1.3,1.3 0 1,0 -2.6,0M618.6,133.9a1.3,1.3 0 1,0 2.6,0a1.3,1.3 0 1,0 -2.6,0M140.2,104.8a1.0,1.0 0 1,0 2.0,0a1.0,1.0 0 1,0 -2.0,0M44.4,94.6a1.2,1.2 0 1,0 2.4,0a1.2,1.2 0 1,0 -2.4,0M392.7,118.3a1.2,1.2 0 1,0 2.4,0a1.2,1.2 0 1,0 -2.4,0M326.8,122.6a1.1,1.1 0 1,0 2.2,0a1.1,1.1 0 1,0 -2.2,0M179.0,103.0a1.1,1.1 0 1,0 2.2,0a1.1,1.1 0 1,0 -2.2,0M457.8,142.4a1.1,1.1 0 1,0 2.2,0a1.1,1.1 0 1,0 -2.2,0M480.8,137.5a1.0,1.0 0 1,0 2.0,0a1.0,1.0 0 1,0 -2.0,0M28.1,98.8a1.3,1.3 0 1,0 2.6,0a1.3,1.3 0 1,0 -2.6,0M288.8,149.0a1.3,1.3 0 1,0 2.6,0a1.3,1.3 0 1,0 -2.6,0M213.4,141.0a1.0,1.0 0 1,0 2.0,0a1.0,1.0 0 1,0 -2.0,0M199.2,125.9a1.3,1.3 0 1,0 2.6,0a1.3,1.3 0 1,0 -2.6,0M40.7,82.9a1.1,1.1 0 1,0 2.2,0a1.1,1.1 0 1,0 -2.2,0M35.0,97.9a1.3,1.3 0 1,0 2.6,0a1.3,1.3 0 1,0 -2.6,0M306.3,134.2a1.2,1.2 0 1,0 2.4,0a1.2,1.2 0 1,0 -2.4,0M206.2,111.4a1.3,1.3 0 1,0 2.6,0a1.3,1.3 0 1,0 -2.6,0M105.1,88.2a1.2,1.2 0 1,0 2.4,0a1.2,1.2 0 1,0 -2.4,0M340.6,111.7a1.1,1.1 0 1,0 2.2,0a1.1,1.1 0 1,0 -2.2,0M250.5,150.0a1.1,1.1 0 1,0 2.2,0a1.1,1.1 0 1,0 -2.2,0M78.2,103.5a1.1,1.1 0 1,0 2.2,0a1.1,1.1 0 1,0 -2.2,0M100.9,147.9a1.3,1.3 0 1,0 2.6,0a1.3,1.3 0 1,0 -2.6,0M359.3,145.0a1.2,1.2 0 1,0 2.4,0a1.2,1.2 0 1,0 -2.4,0M416.8,76.6a1.1,1.1 0 1,0 2.2,0a1.1,1.1 0 1,0 -2.2,0M354.8,102.9a1.0,1.0 0 1,0 2.0,0a1.0,1.0 0 1,0 -2.0,0M595.7,151.3a1.1,1.1 0 1,0 2.2,0a1.1,1.1 0 1,0 -2.2,0M491.2,94.7a1.3,1.3 0 1,0 2.6,0a1.3,1.3 0 1,0 -2.6,0M88.4,114.9a1.3,1.3 0 1,0 2.6,0a1.3,1.3 0 1,0 -2.6,0M248.4,100.2a1.3,1.3 0 1,0 2.6,0a1.3,1.3 0 1,0 -2.6,0M442.6,91.0a1.3,1.3 0 1,0 2.6,0a1.3,1.3 0 1,0 -2.6,0M138.4,140.6a1.2,1.2 0 1,0 2.4,0a1.2,1.2 0 1,0 -2.4,0M419.8,92.6a1.0,1.0 0 1,0 2.0,0a1.0,1.0 0 1,0 -2.0,0M466.8,154.5a1.1,1.1 0 1,0 2.2,0a1.1,1.1 0 1,0 -2.2,0M306.1,93.8a1.2,1.2 0 1,0 2.4,0a1.2,1.2 0 1,0 -2.4,0M440.7,72.7a1.3,1.3 0 1,0 2.6,0a1.3,1.3 0 1,0 -2.6,0M88.7,153.5a1.3,1.3 0 1,0 2.6,0a1.3,1.3 0 1,0 -2.6,0M180.9,104.5a1.2,1.2 0 1,0 2.4,0a1.2,1.2 0 1,0 -2.4,0M300.4,100.1a1.2,1.2 0 1,0 2.4,0a1.2,1.2 0 1,0 -2.4,0M59.7,72.3a1.2,1.2 0 1,0 2.4,0a1.2,1.2 0 1,0 -2.4,0M557.1,123.2a1.2,1.2 0 1,0 2.4,0a1.2,1.2 0 1,0 -2.4,0M510.5,152.7a1.3,1.3 0 1,0 2.6,0a1.3,1.3 0 1,0 -2.6,0M249.1,101.4a1.2,1.2 0 1,0 2.4,0a1.2,1.2 0 1,0 -2.4,0M34.7,134.6a1.1,1.1 0 1,0 2.2,0a1.1,1.1 0 1,0 -2.2,0M484.0,128.7a1.3,1.3 0 1,0 2.6,0a1.3,1.3 0 1,0 -2.6,0M388.0,76.2a1.0,1.0 0 1,0 2.0,0a1.0,1.0 0 1,0 -2.0,0M519.3,152.1a1.3,1.3 0 1,0 2.6,0a1.3,1.3 0 1,0 -2.6,0M602.5,106.7a1.1,1.1 0 1,0 2.2,0a1.1,1.1 0 1,0 -2.2,0M430.5,95.7a1.3,1.3 0 1,0 2.6,0a1.3,1.3 0 1,0 -2.6,0M234.7,160.2a1.1,1.1 0 1,0 2.2,0a1.1,1.1 0 1,0 -2.2,0M383.3,95.3a1.2,1.2 0 1,0 2.4,0a1.2,1.2 0 1,0 -2.4,0M428.9,92.2a1.0,1.0 0 1,0 2.0,0a1.0,1.0 0 1,0 -2.0,0M578.4,161.5a1.0,1.0 0 1,0 2.0,0a1.0,1.0 0 1,0 -2.0,0M161.3,115.2a1.0,1.0 0 1,0 2.0,0a1.0,1.0 0 1,0 -2.0,0M394.8,122.2a1.2,1.2 0 1,0 2.4,0a1.2,1.2 0 1,0 -2.4,0M176.3,79.1a1.0,1.0 0 1,0 2.0,0a1.0,1.0 0 1,0 -2.0,0M205.9,135.9a1.3,1.3 0 1,0 2.6,0a1.3,1.3 0 1,0 -2.6,0M432.6,159.6a1.1,1.1 0 1,0 2.2,0a1.1,1.1 0 1,0 -2.2,0M112.5,126.9a1.3,1.3 0 1,0 2.6,0a1.3,1.3 0 1,0 -2.6,0M504.3,97.9a1.3,1.3 0 1,0 2.6,0a1.3,1.3 0 1,0 -2.6,0M189.1,138.9a1.3,1.3 0 1,0 2.6,0a1.3,1.3 0 1,0 -2.6,0M159.7,92.5a1.2,1.2 0 1,0 2.4,0a1.2,1.2 0 1,0 -2.4,0M444.5,155.3a1.1,1.1 0 1,0 2.2,0a1.1,1.1 0 1,0 -2.2,0M548.6,162.3a1.0,1.0 0 1,0 2.0,0a1.0,1.0 0 1,0 -2.0,0M553.3,99.6a1.3,1.3 0 1,0 2.6,0a1.3,1.3 0 1,0 -2.6,0M327.0,132.9a1.0,1.0 0 1,0 2.0,0a1.0,1.0 0 1,0 -2.0,0M114.4,149.6a1.3,1.3 0 1,0 2.6,0a1.3,1.3 0 1,0 -2.6,0M48.1,92.5a1.3,1.3 0 1,0 2.6,0a1.3,1.3 0 1,0 -2.6,0M169.3,128.3a1.2,1.2 0 1,0 2.4,0a1.2,1.2 0 1,0 -2.4,0M450.2,100.8a1.2,1.2 0 1,0 2.4,0a1.2,1.2 0 1,0 -2.4,0M535.5,89.8a1.1,1.1 0 1,0 2.2,0a1.1,1.1 0 1,0 -2.2,0M360.4,109.1a1.1,1.1 0 1,0 2.2,0a1.1,1.1 0 1,0 -2.2,0M394.1,147.2a1.1,1.1 0 1,0 2.2,0a1.1,1.1 0 1,0 -2.2,0M91.8,104.1a1.2,1.2 0 1,0 2.4,0a1.2,1.2 0 1,0 -2.4,0M156.2,86.5a1.0,1.0 0 1,0 2.0,0a1.0,1.0 0 1,0 -2.0,0M302.3,134.2a1.1,1.1 0 1,0 2.2,0a1.1,1.1 0 1,0 -2.2,0M178.5,94.6a1.2,1.2 0 1,0 2.4,0a1.2,1.2 0 1,0 -2.4,0M399.2,107.1a1.1,1.1 0 1,0 2.2,0a1.1,1.1 0 1,0 -2.2,0M45.6,135.2a1.0,1.0 0 1,0 2.0,0a1.0,1.0 0 1,0 -2.0,0M544.4,88.9a1.2,1.2 0 1,0 2.4,0a1.2,1.2 0 1,0 -2.4,0M459.9,162.4a1.0,1.0 0 1,0 2.0,0a1.0,1.0 0 1,0 -2.0,0M261.3,153.6a1.3,1.3 0 1,0 2.6,0a1.3,1.3 0 1,0 -2.6,0M119.6,75.5a1.3,1.3 0 1,0 2.6,0a1.3,1.3 0 1,0 -2.6,0M501.7,148.2a1.2,1.2 0 1,0 2.4,0a1.2,1.2 0 1,0 -2.4,0M151.5,136.3a1.3,1.3 0 1,0 2.6,0a1.3,1.3 0 1,0 -2.6,0M480.3,161.3a1.3,1.3 0 1,0 2.6,0a1.3,1.3 0 1,0 -2.6,0M425.5,90.5a1.2,1.2 0 1,0 2.4,0a1.2,1.2 0 1,0 -2.4,0M501.6,84.4a1.1,1.1 0 1,0 2.2,0a1.1,1.1 0 1,0 -2.2,0M521.9,122.2a1.2,1.2 0 1,0 2.4,0a1.2,1.2 0 1,0 -2.4,0M550.4,110.9a1.1,1.1 0 1,0 2.2,0a1.1,1.1 0 1,0 -2.2,0M212.4,71.4a1.1,1.1 0 1,0 2.2,0a1.1,1.1 0 1,0 -2.2,0M182.0,106.6a1.2,1.2 0 1,0 2.4,0a1.2,1.2 0 1,0 -2.4,0M153.9,114.1a1.2,1.2 0 1,0 2.4,0a1.2,1.2 0 1,0 -2.4,0M350.6,121.9a1.1,1.1 0 1,0 2.2,0a1.1,1.1 0 1,0 -2.2,0M54.9,151.9a1.2,1.2 0 1,0 2.4,0a1.2,1.2 0 1,0 -2.4,0M422.6,70.8a1.2,1.2 0 1,0 2.4,0a1.2,1.2 0 1,0 -2.4,0M309.3,162.3a1.1,1.1 0 1,0 2.2,0a1.1,1.1 0 1,0 -2.2,0M617.9,108.9a1.0,1.0 0 1,0 2.0,0a1.0,1.0 0 1,0 -2.0,0M267.3,144.6a1.3,1.3 0 1,0 2.6,0a1.3,1.3 0 1,0 -2.6,0M354.1,90.1a1.2,1.2 0 1,0 2.4,0a1.2,1.2 0 1,0 -2.4,0M184.1,156.5a1.1,1.1 0 1,0 2.2,0a1.1,1.1 0 1,0 -2.2,0M619.5,112.1a1.0,1.0 0 1,0 2.0,0a1.0,1.0 0 1,0 -2.0,0M122.6,71.7a1.1,1.1 0 1,0 2.2,0a1.1,1.1 0 1,0 -2.2,0M343.0,132.6a1.2,1.2 0 1,0 2.4,0a1.2,1.2 0 1,0 -2.4,0M233.7,139.5a1.2,1.2 0 1,0 2.4,0a1.2,1.2 0 1,0 -2.4,0M54.1,112.2a1.1,1.1 0 1,0 2.2,0a1.1,1.1 0 1,0 -2.2,0M54.5,102.8a1.2,1.2 0 1,0 2.4,0a1.2,1.2 0 1,0 -2.4,0M507.4,144.0a1.3,1.3 0 1,0 2.6,0a1.3,1.3 0 1,0 -2.6,0M258.4,144.2a1.0,1.0 0 1,0 2.0,0a1.0,1.0 0 1,0 -2.0,0M583.9,115.6a1.3,1.3 0 1,0 2.6,0a1.3,1.3 0 1,0 -2.6,0M168.0,153.8a1.0,1.0 0 1,0 2.0,0a1.0,1.0 0 1,0 -2.0,0M21.6,81.9a1.2,1.2 0 1,0 2.4,0a1.2,1.2 0 1,0 -2.4,0M251.6,104.0a1.2,1.2 0 1,0 2.4,0a1.2,1.2 0 1,0 -2.4,0M507.8,104.5a1.3,1.3 0 1,0 2.6,0a1.3,1.3 0 1,0 -2.6,0M230.7,95.6a1.2,1.2 0 1,0 2.4,0a1.2,1.2 0 1,0 -2.4,0M376.6,94.8a1.1,1.1 0 1,0 2.2,0a1.1,1.1 0 1,0 -2.2,0M466.1,90.2a1.1,1.1 0 1,0 2.2,0a1.1,1.1 0 1,0 -2.2,0M347.5,133.1a1.1,1.1 0 1,0 2.2,0a1.1,1.1 0 1,0 -2.2,0M226.7,84.1a1.2,1.2 0 1,0 2.4,0a1.2,1.2 0 1,0 -2.4,0M228.7,109.6a1.0,1.0 0 1,0 2.0,0a1.0,1.0 0 1,0 -2.0,0M258.6,74.6a1.0,1.0 0 1,0 2.0,0a1.0,1.0 0 1,0 -2.0,0M211.0,119.4a1.1,1.1 0 1,0 2.2,0a1.1,1.1 0 1,0 -2.2,0M28.6,85.1a1.0,1.0 0 1,0 2.0,0a1.0,1.0 0 1,0 -2.0,0M473.6,80.7a1.2,1.2 0 1,0 2.4,0a1.2,1.2 0 1,0 -2.4,0M277.0,159.0a1.1,1.1 0 1,0 2.2,0a1.1,1.1 0 1,0 -2.2,0M554.9,146.0a1.0,1.0 0 1,0 2.0,0a1.0,1.0 0 1,0 -2.0,0M426.9,158.1a1.2,1.2 0 1,0 2.4,0a1.2,1.2 0 1,0 -2.4,0M551.0,142.8a1.0,1.0 0 1,0 2.0,0a1.0,1.0 0 1,0 -2.0,0M105.6,128.1a1.3,1.3 0 1,0 2.6,0a1.3,1.3 0 1,0 -2.6,0M568.8,76.2a1.2,1.2 0 1,0 2.4,0a1.2,1.2 0 1,0 -2.4,0M554.5,150.0a1.3,1.3 0 1,0 2.6,0a1.3,1.3 0 1,0 -2.6,0M85.0,146.8a1.3,1.3 0 1,0 2.6,0a1.3,1.3 0 1,0 -2.6,0M280.5,113.2a1.3,1.3 0 1,0 2.6,0a1.3,1.3 0 1,0 -2.6,0M344.5,74.1a1.0,1.0 0 1,0 2.0,0a1.0,1.0 0 1,0 -2.0,0M336.4,111.9a1.2,1.2 0 1,0 2.4,0a1.2,1.2 0 1,0 -2.4,0M376.0,125.3a1.2,1.2 0 1,0 2.4,0a1.2,1.2 0 1,0 -2.4,0M108.0,112.7a1.2,1.2 0 1,0 2.4,0a1.2,1.2 0 1,0 -2.4,0M463.7,99.6a1.3,1.3 0 1,0 2.6,0a1.3,1.3 0 1,0 -2.6,0M616.5,108.3a1.1,1.1 0 1,0 2.2,0a1.1,1.1 0 1,0 -2.2,0M473.0,153.6a1.0,1.0 0 1,0 2.0,0a1.0,1.0 0 1,0 -2.0,0"/>
<path fill="#000" d="M397.0,136.2 L393.9,140.0 L392.2,135.5zM589.2,131.7 L584.2,130.7 L587.5,126.9zM29.9,88.7 L27.9,92.3 L25.8,88.7zM392.5,81.9 L391.7,85.4 L389.0,82.9zM192.7,153.5 L196.5,156.0 L192.4,158.0zM558.4,101.2 L554.7,99.1 L558.3,97.0zM21.1,132.6 L20.5,128.5 L24.4,130.1zM446.5,78.0 L441.7,79.9 L442.4,74.8zM242.1,123.0 L238.5,123.9 L239.6,120.4zM577.2,157.2 L577.8,153.1 L581.1,155.6zM501.1,147.2 L498.7,150.0 L497.5,146.5zM223.3,155.1 L222.7,150.6 L226.9,152.3zM436.3,160.3 L432.5,161.2 L433.7,157.5zM374.8,145.8 L377.0,142.1 L379.1,145.9zM526.5,83.4 L523.3,87.0 L521.8,82.4zM107.4,146.0 L110.2,143.0 L111.4,147.0zM244.5,156.2 L249.4,157.6 L245.8,161.2zM75.5,92.9 L74.4,97.6 L70.8,94.4zM418.4,136.5 L421.4,139.4 L417.4,140.6zM194.3,153.2 L198.9,153.1 L196.7,157.1zM299.0,140.9 L300.1,145.4 L295.6,144.1zM229.3,142.9 L233.2,146.0 L228.6,147.8zM117.0,145.1 L121.0,141.9 L121.7,147.0zM486.6,124.8 L489.1,120.8 L491.3,124.9zM35.1,82.9 L39.1,84.7 L35.6,87.2zM304.9,93.4 L301.3,92.2 L304.1,89.7zM297.4,103.8 L302.0,104.0 L299.6,107.9zM188.5,105.5 L188.5,109.4 L185.2,107.5zM350.2,101.2 L347.0,104.4 L345.8,100.0zM239.6,83.2 L244.1,82.6 L242.4,86.8zM555.0,72.2 L558.7,71.8 L557.2,75.3zM245.3,111.8 L244.3,107.9 L248.1,109.0zM375.1,95.1 L379.5,92.4 L379.6,97.6zM190.5,111.8 L194.2,112.7 L191.6,115.5z"/>
<path fill="none" stroke="#000" stroke-width="1.3" d="M462.6,153.7 L465.3,151.2 L466.1,154.8zM299.6,92.4 L304.1,92.1 L302.1,96.1zM482.0,88.8 L477.4,87.1 L481.2,84.0zM148.0,88.1 L146.7,93.1 L143.0,89.5zM145.7,153.3 L142.2,156.5 L141.2,151.9zM105.7,75.5 L109.8,76.0 L107.3,79.3zM509.6,115.1 L512.9,112.6 L513.4,116.7zM471.1,144.4 L472.2,147.9 L468.6,147.1zM128.8,152.8 L130.7,156.3 L126.7,156.2zM335.3,137.8 L337.3,141.1 L333.5,141.1zM77.1,99.7 L74.8,103.6 L72.5,99.6zM211.7,88.9 L208.2,87.4 L211.3,85.2zM613.2,122.2 L610.8,118.7 L615.0,118.4zM51.4,151.5 L54.5,149.6 L54.6,153.2zM396.9,142.2 L399.1,139.1 L400.6,142.6zM617.7,148.5 L621.3,144.7 L622.7,149.6zM309.4,99.4 L305.5,97.8 L308.9,95.2zM236.2,138.0 L239.9,141.1 L235.4,142.7zM187.8,111.5 L191.6,114.5 L187.0,116.3zM25.9,116.9 L29.3,119.0 L25.7,120.9zM230.4,125.7 L230.5,130.5 L226.3,128.2zM604.1,156.2 L608.3,154.7 L607.5,159.1zM436.8,137.9 L432.8,135.3 L437.0,133.1zM394.4,137.5 L397.4,141.0 L392.8,141.9zM154.2,132.2 L149.8,133.4 L151.0,129.0zM212.9,88.0 L209.2,89.2 L210.1,85.3zM161.2,151.8 L162.8,148.5 L164.8,151.6zM246.9,76.4 L242.3,76.1 L244.9,72.3zM510.2,107.2 L514.7,109.0 L510.9,112.1zM593.7,159.7 L594.2,155.2 L597.9,157.9zM391.8,83.0 L390.1,87.3 L387.2,83.7zM607.0,104.8 L604.5,109.3 L601.8,104.9zM266.7,100.0 L271.1,97.1 L271.3,102.3zM287.8,95.1 L288.0,99.9 L283.7,97.7z"/>
<rect x="316.5" y="68" width="7.5" height="96" fill="#fff"/>
<g stroke="#000" fill="none">
<line x1="316.0" y1="68.0" x2="316.0" y2="164.6" stroke-width="1.8" />
<line x1="324.6" y1="68.1" x2="324.6" y2="164.6" stroke-width="1.8" />
<line x1="15.0" y1="66.8" x2="627.0" y2="69.3" stroke-width="2" />
<line x1="15.0" y1="163.7" x2="627.0" y2="165.5" stroke-width="2" />
<polyline points="15.0,42.0 15.0,106.7 21.0,112.0 21.5,113.5 8.0,116.0 3.5,117.5 15.0,123.0 15.0,185.0" fill="none" stroke-width="2" />
<polyline points="626.8,45.0 626.8,110.5 633.0,113.0 638.5,116.0 623.0,118.5 620.5,121.0 626.8,124.5 626.8,188.0" fill="none" stroke-width="2" />
</g>
<rect x="215.5" y="165.0" width="207.3" height="55.599999999999994" fill="#fff"/>
<clipPath id="cl"><rect x="215.5" y="165.0" width="14.400000000000006" height="44.599999999999994"/></clipPath>
<clipPath id="ct"><rect x="229.9" y="165.0" width="180.29999999999998" height="13.900000000000006"/></clipPath>
<clipPath id="cr"><rect x="410.2" y="165.0" width="12.600000000000023" height="44.599999999999994"/></clipPath>
<clipPath id="cb"><rect x="215.5" y="209.6" width="207.3" height="11.0"/></clipPath>
<g clip-path="url(#cl)" stroke="#000">
<line x1="230.0" y1="150.0" x2="155.0" y2="225.0" stroke-width="2.3" />
<line x1="243.2" y1="150.0" x2="168.2" y2="225.0" stroke-width="2.3" />
<line x1="256.3" y1="150.0" x2="181.3" y2="225.0" stroke-width="2.3" />
<line x1="269.5" y1="150.0" x2="194.5" y2="225.0" stroke-width="2.3" />
<line x1="282.7" y1="150.0" x2="207.7" y2="225.0" stroke-width="2.3" />
</g>
<g clip-path="url(#ct)" stroke="#000">
<line x1="202.7" y1="187.9" x2="231.9" y2="155.5" stroke-width="2.3" />
<line x1="215.9" y1="187.9" x2="245.1" y2="155.5" stroke-width="2.3" />
<line x1="229.1" y1="187.9" x2="258.3" y2="155.5" stroke-width="2.3" />
<line x1="242.3" y1="187.9" x2="271.5" y2="155.5" stroke-width="2.3" />
<line x1="255.5" y1="187.9" x2="284.7" y2="155.5" stroke-width="2.3" />
<line x1="268.7" y1="187.9" x2="297.9" y2="155.5" stroke-width="2.3" />
<line x1="281.9" y1="187.9" x2="311.1" y2="155.5" stroke-width="2.3" />
<line x1="295.1" y1="187.9" x2="324.3" y2="155.5" stroke-width="2.3" />
<line x1="308.3" y1="187.9" x2="337.5" y2="155.5" stroke-width="2.3" />
<line x1="321.5" y1="187.9" x2="350.7" y2="155.5" stroke-width="2.3" />
<line x1="334.7" y1="187.9" x2="363.9" y2="155.5" stroke-width="2.3" />
<line x1="347.9" y1="187.9" x2="377.1" y2="155.5" stroke-width="2.3" />
<line x1="361.1" y1="187.9" x2="390.3" y2="155.5" stroke-width="2.3" />
<line x1="374.3" y1="187.9" x2="403.5" y2="155.5" stroke-width="2.3" />
<line x1="387.5" y1="187.9" x2="416.7" y2="155.5" stroke-width="2.3" />
<line x1="400.7" y1="187.9" x2="429.9" y2="155.5" stroke-width="2.3" />
<line x1="413.9" y1="187.9" x2="443.1" y2="155.5" stroke-width="2.3" />
</g>
<g clip-path="url(#cr)" stroke="#000">
<line x1="425.0" y1="150.0" x2="350.0" y2="225.0" stroke-width="2.3" />
<line x1="437.0" y1="150.0" x2="362.0" y2="225.0" stroke-width="2.3" />
<line x1="449.0" y1="150.0" x2="374.0" y2="225.0" stroke-width="2.3" />
<line x1="461.0" y1="150.0" x2="386.0" y2="225.0" stroke-width="2.3" />
<line x1="473.0" y1="150.0" x2="398.0" y2="225.0" stroke-width="2.3" />
<line x1="485.0" y1="150.0" x2="410.0" y2="225.0" stroke-width="2.3" />
</g>
<g clip-path="url(#cb)" stroke="#000">
<line x1="194.2" y1="225.5" x2="208.0" y2="205.1" stroke-width="2.3" />
<line x1="207.3" y1="225.5" x2="221.1" y2="205.1" stroke-width="2.3" />
<line x1="220.4" y1="225.5" x2="234.2" y2="205.1" stroke-width="2.3" />
<line x1="233.5" y1="225.5" x2="247.3" y2="205.1" stroke-width="2.3" />
<line x1="246.6" y1="225.5" x2="260.4" y2="205.1" stroke-width="2.3" />
<line x1="259.7" y1="225.5" x2="273.5" y2="205.1" stroke-width="2.3" />
<line x1="272.8" y1="225.5" x2="286.6" y2="205.1" stroke-width="2.3" />
<line x1="285.9" y1="225.5" x2="299.7" y2="205.1" stroke-width="2.3" />
<line x1="299.0" y1="225.5" x2="312.8" y2="205.1" stroke-width="2.3" />
<line x1="312.1" y1="225.5" x2="325.9" y2="205.1" stroke-width="2.3" />
<line x1="325.2" y1="225.5" x2="339.0" y2="205.1" stroke-width="2.3" />
<line x1="338.3" y1="225.5" x2="352.1" y2="205.1" stroke-width="2.3" />
<line x1="351.4" y1="225.5" x2="365.2" y2="205.1" stroke-width="2.3" />
<line x1="364.5" y1="225.5" x2="378.3" y2="205.1" stroke-width="2.3" />
<line x1="377.6" y1="225.5" x2="391.4" y2="205.1" stroke-width="2.3" />
<line x1="390.7" y1="225.5" x2="404.5" y2="205.1" stroke-width="2.3" />
<line x1="403.8" y1="225.5" x2="417.6" y2="205.1" stroke-width="2.3" />
<line x1="416.9" y1="225.5" x2="430.7" y2="205.1" stroke-width="2.3" />
<line x1="430.0" y1="225.5" x2="443.8" y2="205.1" stroke-width="2.3" />
</g>
<g stroke="#000" fill="none">
<rect x="215.5" y="165.0" width="207.3" height="55.599999999999994" stroke-width="2"/>
<rect x="229.9" y="178.9" width="180.29999999999998" height="30.69999999999999" stroke-width="1.9"/>
</g>
<g stroke="#000" fill="none">
<rect x="256" y="113.2" width="10.4" height="66.8" fill="#b4b4b4" stroke="none"/>
<rect x="259.6" y="113.2" width="3.4" height="66.8" fill="#fff" stroke="none"/>
<path d="M256,113.7 Q256,110.2 259,110.2 H263.4 Q266.4,110.2 266.4,113.7" fill="#fff" stroke-width="1.8"/>
<line x1="256" y1="113.2" x2="256" y2="180" stroke-width="2.5"/>
<line x1="266.4" y1="113.2" x2="266.4" y2="180" stroke-width="2.0"/>
<line x1="256" y1="114.4" x2="266.4" y2="114.4" stroke-width="1.2"/>
<line x1="259.2" y1="114.2" x2="259.2" y2="180" stroke-width="1.5"/>
<line x1="263.2" y1="114.2" x2="263.2" y2="180" stroke-width="1.3"/>
<rect x="255" y="165" width="6.5" height="14.5" fill="#000" stroke="none"/>
<line x1="261" y1="110.2" x2="261" y2="96" stroke-width="1.6"/>
<path d="M259,99 L261,96 L263.5,97.5" stroke-width="1.6"/>
<path d="M253.5,179.5 H266.9 V184.5 L262.8,190 H259.2 L253.5,184.5 Z" fill="#000" stroke="none"/>
<rect x="256.6" y="180.8" width="0.9" height="3.0" fill="#fff" stroke="none"/>
<rect x="259.6" y="180.8" width="0.9" height="3.0" fill="#fff" stroke="none"/>
<rect x="262.6" y="180.8" width="0.9" height="3.0" fill="#fff" stroke="none"/>
<line x1="260.8" y1="189" x2="260.8" y2="197" stroke-width="1.4"/>
</g>
<g stroke="#000" fill="none">
<rect x="374.8" y="114.2" width="10.4" height="65.8" fill="#9a9a9a" stroke="none"/>
<rect x="378.40000000000003" y="114.2" width="3.4" height="65.8" fill="#fff" stroke="none"/>
<path d="M374.8,114.7 Q374.8,111.2 377.8,111.2 H382.2 Q385.2,111.2 385.2,114.7" fill="#fff" stroke-width="1.8"/>
<line x1="374.8" y1="114.2" x2="374.8" y2="180" stroke-width="2.5"/>
<line x1="385.2" y1="114.2" x2="385.2" y2="180" stroke-width="2.0"/>
<line x1="374.8" y1="115.4" x2="385.2" y2="115.4" stroke-width="1.2"/>
<line x1="378.0" y1="115.2" x2="378.0" y2="180" stroke-width="1.5"/>
<line x1="382.0" y1="115.2" x2="382.0" y2="180" stroke-width="1.3"/>
<rect x="373.8" y="165" width="6.5" height="14.5" fill="#000" stroke="none"/>
<line x1="379.8" y1="111.2" x2="379.8" y2="97.3" stroke-width="1.6"/>
<path d="M377.8,100.3 L379.8,97.3 L382.3,98.8" stroke-width="1.6"/>
<path d="M372.3,179.5 H385.7 V184.5 L381.6,190 H378.0 L372.3,184.5 Z" fill="#000" stroke="none"/>
<rect x="375.40000000000003" y="180.8" width="0.9" height="3.0" fill="#fff" stroke="none"/>
<rect x="378.40000000000003" y="180.8" width="0.9" height="3.0" fill="#fff" stroke="none"/>
<rect x="381.40000000000003" y="180.8" width="0.9" height="3.0" fill="#fff" stroke="none"/>
<line x1="379.6" y1="189" x2="379.6" y2="197" stroke-width="1.4"/>
</g>
<g stroke="#000" fill="none">
<line x1="260.3" y1="221.0" x2="260.3" y2="263.0" stroke-width="2" />
<line x1="260.3" y1="277.0" x2="260.3" y2="322.5" stroke-width="2" />
<line x1="260.3" y1="338.0" x2="260.3" y2="377.8" stroke-width="2" />
<rect x="259.40000000000003" y="265.5" width="1.8" height="2" fill="#000" stroke="none"/>
<rect x="259.40000000000003" y="271.5" width="1.8" height="2" fill="#000" stroke="none"/>
<rect x="259.40000000000003" y="326.5" width="1.8" height="2" fill="#000" stroke="none"/>
<rect x="259.40000000000003" y="332" width="1.8" height="2" fill="#000" stroke="none"/>
<line x1="379.4" y1="221.0" x2="379.4" y2="263.0" stroke-width="2" />
<line x1="379.4" y1="277.0" x2="379.4" y2="322.5" stroke-width="2" />
<line x1="379.4" y1="338.0" x2="379.4" y2="377.8" stroke-width="2" />
<rect x="378.5" y="265.5" width="1.8" height="2" fill="#000" stroke="none"/>
<rect x="378.5" y="271.5" width="1.8" height="2" fill="#000" stroke="none"/>
<rect x="378.5" y="326.5" width="1.8" height="2" fill="#000" stroke="none"/>
<rect x="378.5" y="332" width="1.8" height="2" fill="#000" stroke="none"/>
<line x1="260.3" y1="238.0" x2="312.5" y2="238.0" stroke-width="2" />
<line x1="327.5" y1="238.0" x2="379.4" y2="238.0" stroke-width="2" />
<rect x="316.5" y="237.1" width="2" height="1.8" fill="#000" stroke="none"/>
<rect x="322.8" y="237.1" width="2" height="1.8" fill="#000" stroke="none"/>
<line x1="260.3" y1="262.0" x2="312.5" y2="262.0" stroke-width="2" />
<line x1="327.5" y1="262.0" x2="379.4" y2="262.0" stroke-width="2" />
<rect x="316.5" y="261.1" width="2" height="1.8" fill="#000" stroke="none"/>
<rect x="322.8" y="261.1" width="2" height="1.8" fill="#000" stroke="none"/>
<line x1="260.3" y1="285.5" x2="312.5" y2="285.5" stroke-width="2" />
<line x1="327.5" y1="285.5" x2="379.4" y2="285.5" stroke-width="2" />
<rect x="316.5" y="284.6" width="2" height="1.8" fill="#000" stroke="none"/>
<rect x="322.8" y="284.6" width="2" height="1.8" fill="#000" stroke="none"/>
<line x1="260.3" y1="308.3" x2="312.5" y2="308.3" stroke-width="2" />
<line x1="327.5" y1="308.3" x2="379.4" y2="308.3" stroke-width="2" />
<rect x="316.5" y="307.40000000000003" width="2" height="1.8" fill="#000" stroke="none"/>
<rect x="322.8" y="307.40000000000003" width="2" height="1.8" fill="#000" stroke="none"/>
<line x1="260.3" y1="332.2" x2="312.5" y2="332.2" stroke-width="2" />
<line x1="327.5" y1="332.2" x2="379.4" y2="332.2" stroke-width="2" />
<rect x="316.5" y="331.3" width="2" height="1.8" fill="#000" stroke="none"/>
<rect x="322.8" y="331.3" width="2" height="1.8" fill="#000" stroke="none"/>
<line x1="260.3" y1="355.8" x2="312.5" y2="355.8" stroke-width="2" />
<line x1="327.5" y1="355.8" x2="379.4" y2="355.8" stroke-width="2" />
<rect x="316.5" y="354.90000000000003" width="2" height="1.8" fill="#000" stroke="none"/>
<rect x="322.8" y="354.90000000000003" width="2" height="1.8" fill="#000" stroke="none"/>
<line x1="273.2" y1="221.0" x2="273.2" y2="238.0" stroke-width="2" />
<line x1="320.4" y1="221.0" x2="320.4" y2="238.0" stroke-width="2" />
<line x1="366.8" y1="221.0" x2="366.8" y2="238.0" stroke-width="2" />
<line x1="296.7" y1="238.0" x2="296.7" y2="262.0" stroke-width="2" />
<line x1="343.5" y1="238.0" x2="343.5" y2="262.0" stroke-width="2" />
<line x1="273.2" y1="262.0" x2="273.2" y2="285.5" stroke-width="2" />
<line x1="320.4" y1="262.0" x2="320.4" y2="285.5" stroke-width="2" />
<line x1="366.8" y1="262.0" x2="366.8" y2="285.5" stroke-width="2" />
<line x1="296.7" y1="285.5" x2="296.7" y2="308.3" stroke-width="2" />
<line x1="343.5" y1="285.5" x2="343.5" y2="308.3" stroke-width="2" />
<line x1="273.2" y1="308.3" x2="273.2" y2="332.2" stroke-width="2" />
<line x1="320.4" y1="308.3" x2="320.4" y2="332.2" stroke-width="2" />
<line x1="366.8" y1="308.3" x2="366.8" y2="332.2" stroke-width="2" />
<line x1="296.7" y1="332.2" x2="296.7" y2="355.8" stroke-width="2" />
<line x1="343.5" y1="332.2" x2="343.5" y2="355.8" stroke-width="2" />
<line x1="273.2" y1="355.8" x2="273.2" y2="377.8" stroke-width="2" />
<line x1="366.8" y1="355.8" x2="366.8" y2="377.8" stroke-width="2" />
<polyline points="238.0,377.8 314.0,377.8 317.0,381.0 319.0,393.0 320.5,380.0 322.5,361.0 329.0,377.8 411.5,377.8" fill="none" stroke-width="1.8" />
<line x1="320.3" y1="355.8" x2="320.3" y2="392.5" stroke-width="1.8" />
</g>
<g stroke="#000" fill="none" stroke-width="1.6">
<polyline points="193.0,32.4 218.5,32.4 257.0,111.0" fill="none" stroke-width="2" />
<polyline points="457.5,33.0 433.5,33.0 392.5,111.0" fill="none" stroke-width="2" />
<polyline points="577.5,42.5 544.5,42.5 506.0,81.0" fill="none" stroke-width="2" />
<polyline points="514.0,239.0 479.0,239.0 419.0,183.0" fill="none" stroke-width="2" />
<polyline points="458.0,346.0 424.0,346.0 363.0,289.6" fill="none" stroke-width="2" />
<polyline points="136.9,277.0 170.6,277.0 240.0,212.0" fill="none" stroke-width="2" />
</g>
<g fill="#000" stroke="#000" stroke-width="0.8">
<path vector-effect="non-scaling-stroke" transform="matrix(0.011765,0,0,-0.016098,437.829,25.100)" d="M810 295V0H638V295H40V428L695 1348H810V438H992V295ZM638 1113H633L153 438H638Z"/>
<path vector-effect="non-scaling-stroke" transform="matrix(0.014494,0,0,-0.016050,549.791,32.100)" d="M627 80 901 53V0H180V53L455 80V1174L184 1077V1130L575 1352H627Z"/>
<path vector-effect="non-scaling-stroke" transform="matrix(0.013002,0,0,-0.016134,486.726,229.277)" d="M944 365Q944 184 820.0 82.0Q696 -20 469 -20Q279 -20 109 23L98 305H164L209 117Q248 95 319.5 79.0Q391 63 453 63Q610 63 685.0 135.0Q760 207 760 375Q760 507 691.0 575.5Q622 644 477 651L334 659V741L477 750Q590 756 644.0 820.0Q698 884 698 1014Q698 1149 639.5 1210.5Q581 1272 453 1272Q400 1272 342.0 1257.5Q284 1243 240 1219L205 1055H139V1313Q238 1339 310.0 1347.5Q382 1356 453 1356Q883 1356 883 1026Q883 887 806.5 804.5Q730 722 590 702Q772 681 858.0 597.5Q944 514 944 365Z"/>
<path vector-effect="non-scaling-stroke" transform="matrix(0.013642,0,0,-0.016372,433.172,337.600)" d="M911 0H90V147L276 316Q455 473 539.0 570.0Q623 667 659.5 770.0Q696 873 696 1006Q696 1136 637.0 1204.0Q578 1272 444 1272Q391 1272 335.0 1257.5Q279 1243 236 1219L201 1055H135V1313Q317 1356 444 1356Q664 1356 774.5 1264.5Q885 1173 885 1006Q885 894 841.5 794.5Q798 695 708.0 596.5Q618 498 410 321Q321 245 221 154H911Z"/>
<path vector-effect="non-scaling-stroke" transform="matrix(0.013714,0,0,-0.015770,145.093,265.685)" d="M963 416Q963 207 857.5 93.5Q752 -20 553 -20Q327 -20 207.5 156.0Q88 332 88 662Q88 878 151.0 1035.0Q214 1192 327.5 1274.0Q441 1356 590 1356Q736 1356 881 1321V1090H815L780 1227Q747 1245 691.0 1258.5Q635 1272 590 1272Q444 1272 362.5 1130.5Q281 989 273 717Q436 803 600 803Q777 803 870.0 703.5Q963 604 963 416ZM549 59Q670 59 724.0 137.5Q778 216 778 397Q778 561 726.5 634.0Q675 707 563 707Q426 707 272 657Q272 352 341.0 205.5Q410 59 549 59Z"/>
</g>
<path d="M211,3.3 L204.8,3.5 Q203.6,6.5 202.4,10 Q207.3,9.3 209.7,13 Q211.3,17 209.7,21 Q207.8,24 203.8,24.1 Q201.6,24.2 201,23.2" fill="none" stroke="#000" stroke-width="2.4" stroke-linecap="round" stroke-linejoin="round"/>
</svg></body></html>
